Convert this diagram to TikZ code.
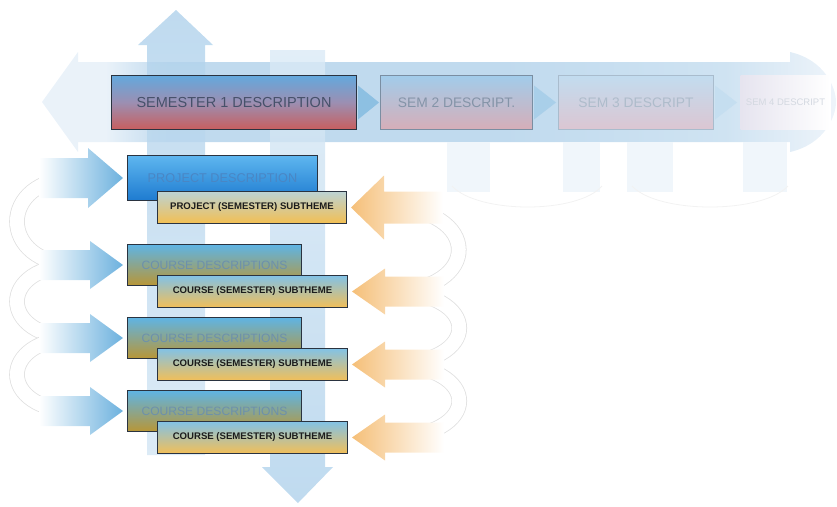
\documentclass[tikz,border=0pt]{standalone}
\usepackage{fontspec}
\setmainfont{Liberation Sans}
\usetikzlibrary{positioning}

% band and arrows
\definecolor{bandlt}{HTML}{EAF2F9}
\definecolor{bandblue}{HTML}{C0DAEE}
\definecolor{bandmid}{HTML}{CFE3F2}
\definecolor{bandend}{HTML}{EEF4FA}
\definecolor{vblue}{HTML}{AFD1EB}
\definecolor{ghost}{HTML}{F0F6FB}
\definecolor{rowblue}{HTML}{6CB1DE}
\definecolor{roworange}{HTML}{F5BF78}
\definecolor{boxline}{HTML}{2A3340}
% semester boxes
\definecolor{semtext}{HTML}{46516A}
\definecolor{s1top}{HTML}{63A8DD}
\definecolor{s1mid}{HTML}{9C8FB2}
\definecolor{s1bot}{HTML}{C85E5E}
\definecolor{s2top}{HTML}{A2CCEA}
\definecolor{s2mid}{HTML}{BBBFD4}
\definecolor{s2bot}{HTML}{D6AEB8}
\definecolor{s2line}{HTML}{7A8EA2}
\definecolor{s2text}{HTML}{8494A8}
\definecolor{s3top}{HTML}{C2DCEF}
\definecolor{s3mid}{HTML}{CCD0E2}
\definecolor{s3bot}{HTML}{DCC6D2}
\definecolor{s3line}{HTML}{A9BCCD}
\definecolor{s3text}{HTML}{AEBCCB}
\definecolor{s4top}{HTML}{E6E4EF}
\definecolor{s4line}{HTML}{FFFFFF}
\definecolor{s4text}{HTML}{D4D9E1}
\definecolor{ch1}{HTML}{8DC0E2}
\definecolor{ch2}{HTML}{A9CFE9}
\definecolor{ch3}{HTML}{C5DEF0}
% project and course boxes
\definecolor{pdtop}{HTML}{5EB6EF}
\definecolor{pdbot}{HTML}{1E7BD0}
\definecolor{pdtext}{HTML}{4A86C4}
\definecolor{pstop}{HTML}{BCD3D4}
\definecolor{psmid}{HTML}{E4D39C}
\definecolor{psbot}{HTML}{F3BF52}
\definecolor{cdtop}{HTML}{5FB4E4}
\definecolor{cdmid}{HTML}{8FA987}
\definecolor{cdbot}{HTML}{B89636}
\definecolor{cdtext}{HTML}{6C90AC}
\definecolor{cstop}{HTML}{82C2E6}
\definecolor{csmid}{HTML}{C4CEAA}
\definecolor{csbot}{HTML}{F2BF58}
\definecolor{subtext}{HTML}{1C1C1C}

\pgfdeclarehorizontalshading{bandfade}{100bp}{color(0bp)=(bandlt); color(25bp)=(bandlt); color(29bp)=(bandlt); color(33bp)=(bandblue); color(54bp)=(bandblue); color(68bp)=(bandmid); color(75bp)=(bandend); color(100bp)=(bandend)}

\pgfdeclarelayer{back}
\pgfdeclarelayer{mid}
\pgfsetlayers{back,mid,main}

\tikzset{
  box/.style={draw=boxline, line width=1pt, inner sep=0pt},
  semester/.style={box, minimum width=245, minimum height=54,
    top color=s1top, bottom color=s1bot, middle color=s1mid,
    font=\fontsize{14.5}{16}\selectfont, text=semtext},
  semfaded/.style={semester, minimum width=152, draw=#1, font=\fontsize{13.8}{15}\selectfont},
  projdesc/.style={box, minimum width=190, minimum height=45,
    top color=pdtop, bottom color=pdbot,
    font=\fontsize{12.7}{14}\selectfont, text=pdtext},
  coursedesc/.style={box, minimum width=174, minimum height=41,
    top color=cdtop, middle color=cdmid, bottom color=cdbot,
    font=\fontsize{12.1}{14}\selectfont, text=cdtext},
  subtheme/.style={box, minimum width=190, minimum height=32,
    top color=cstop, middle color=csmid, bottom color=csbot,
    font=\fontsize{9.6}{11}\selectfont\bfseries, text=subtext},
  chevron/.style={fill=#1},
  bluearrow/.style={left color=white, middle color=rowblue!65!white, right color=rowblue},
  orangearrow/.style={left color=roworange, middle color=roworange!55!white, right color=white},
  vertarrow/.style={opacity=0.8},
  loopband/.style={draw=black!12, line width=0.8pt, double=white, double distance=14pt},
  ghostloop/.style={draw=black!5, line width=0.8pt},
}

\begin{document}
\begin{tikzpicture}[x=1pt, y=-1pt]
\useasboundingbox (0,0) rectangle (837,506);

% semesters
\node[semester, anchor=north west] (s1) at (111,75) {SEMESTER 1 DESCRIPTION};
\node[semfaded=s2line, top color=s2top, middle color=s2mid, bottom color=s2bot,
  text=s2text, right=23pt of s1] (s2) {SEM 2 DESCRIPT.};
\node[semfaded=s3line, minimum width=155, top color=s3top, middle color=s3mid, bottom color=s3bot,
  text=s3text, right=25pt of s2] (s3) {SEM 3 DESCRIPT};
\node[semfaded=s4line, minimum width=90, draw opacity=0, left color=s4top, right color=white,
  text=s4text, font=\fontsize{9.5}{11}\selectfont, right=26pt of s3] (s4) {SEM 4 DESCRIPT};

% project and courses
\node[projdesc, anchor=north west] (proj) at (127,155) {PROJECT DESCRIPTION};
\node[subtheme, minimum width=189, top color=pstop, middle color=psmid, bottom color=psbot,
  anchor=north west] (projsub) at ([shift={(30,-10)}]proj.south west) {PROJECT (SEMESTER) SUBTHEME};
\coordinate (bt0) at ([xshift=-50]proj.west);
\coordinate (ot0) at ([xshift=40]projsub.east);
\foreach \i/\y in {1/244,2/317,3/390} {
  \node[coursedesc, anchor=north west] (c\i) at (127,\y) {COURSE DESCRIPTIONS};
  \node[subtheme, anchor=north west] (cs\i) at ([shift={(30,-11)}]c\i.south west) {COURSE (SEMESTER) SUBTHEME};
  \coordinate (bt\i) at ([xshift=-50]c\i.west);
  \coordinate (ot\i) at ([xshift=40]cs\i.east);
}

\begin{pgfonlayer}{back}
  % loops
  \foreach \a/\b in {0/1,1/2,2/3} {
    \draw[loopband] (bt\a) .. controls +(-80,0) and +(-80,0) .. (bt\b);
    \draw[loopband] (ot\a) .. controls +(95,0) and +(95,0) .. (ot\b);
  }
  % timeline band
  \shade[shading=bandfade] (42,102) -- (78,52) -- (78,62) -- (790,62) -- (790,52)
    .. controls (825,60) and (836,88) .. (836,102)
    .. controls (836,116) and (825,144) .. (790,152) -- (790,142) -- (78,142) -- (78,152) -- cycle;
  \foreach \l/\r in {447/490,563/600,627/673,743/787}
    \fill[ghost] (\l,142) rectangle (\r,192);
  \draw[ghostloop] (452,186) .. controls (478,214) and (578,214) .. (602,186);
  \draw[ghostloop] (632,186) .. controls (658,214) and (762,214) .. (788,186);
\end{pgfonlayer}

\begin{pgfonlayer}{mid}
  % semester chevrons
  \fill[chevron=ch1] ([shift={(1,-17)}]s1.east) -- ([xshift=-1]s2.west) -- ([shift={(1,17)}]s1.east) -- cycle;
  \fill[chevron=ch2] ([shift={(1,-17)}]s2.east) -- ([xshift=-2]s3.west) -- ([shift={(1,17)}]s2.east) -- cycle;
  \fill[chevron=ch3] ([shift={(1,-17)}]s3.east) -- ([xshift=-3]s4.west) -- ([shift={(1,17)}]s3.east) -- cycle;
  % vertical arrows
  \shade[vertarrow, top color=vblue, bottom color=vblue!55!white]
    (147,455) -- (147,45) -- (138,45) -- (176,10) -- (213,45) -- (205,45) -- (205,455) -- cycle;
  \shade[vertarrow, top color=vblue!45!white, bottom color=vblue]
    (270,50) -- (270,467) -- (262,467) -- (298,503) -- (333,467) -- (325,467) -- (325,50) -- cycle;
  % arrows into the boxes
  \shade[bluearrow, shift={(proj.west)}] (-4,0) -- (-39,-30) -- (-39,-20) -- (-88,-20) -- (-88,20) -- (-39,20) -- (-39,30) -- cycle;
  \shade[orangearrow, shift={(projsub.east)}] (4,0) -- (37,-32) -- (37,-16) -- (96,-16) -- (96,16) -- (37,16) -- (37,32) -- cycle;
  \foreach \i in {1,2,3} {
    \shade[bluearrow, shift={(c\i.west)}] (-4,0) -- (-37,-24) -- (-37,-15) -- (-88,-15) -- (-88,15) -- (-37,15) -- (-37,24) -- cycle;
    \shade[orangearrow, shift={(cs\i.east)}] (4,0) -- (37,-23) -- (37,-15) -- (96,-15) -- (96,15) -- (37,15) -- (37,23) -- cycle;
  }
\end{pgfonlayer}
\end{tikzpicture}
\end{document}
